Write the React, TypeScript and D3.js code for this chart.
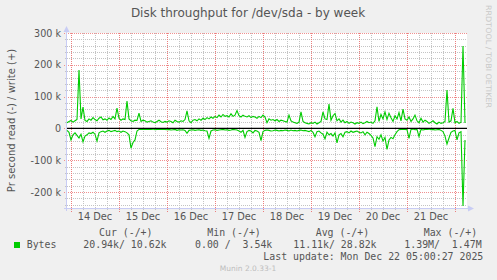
import React from "react";
import * as d3 from "d3";

const W = 497;
const H = 280;

// hourly samples starting Dec 13 22:00 UTC (bytes per second, in k)
const writeK = [
  18, 22, 25, 20, 24, 28, 184, 30, 67, 25,
  22, 30, 26, 34, 28, 24, 32, 36, 27, 30,
  26, 33, 28, 38, 30, 64, 32, 26, 30, 28,
  86, 30, 24, 22, 26, 25, 48, 22, 26, 24,
  20, 22, 24, 20, 18, 22, 26, 21, 19, 22,
  20, 24, 22, 18, 26, 22, 20, 24, 22, 28,
  55, 24, 18, 26, 28, 24, 30, 26, 32, 28,
  34, 30, 36, 32, 38, 34, 42, 36, 44, 38,
  40, 36, 46, 38, 42, 56, 40, 36, 42, 38,
  36, 40, 34, 38, 36, 32, 38, 34, 42, 36,
  18, 30, 26, 28, 24, 28, 22, 26, 24, 22,
  20, 42, 24, 20, 18, 16, 20, 52, 22, 18,
  16, 14, 18, 16, 20, 14, 18, 22, 52, 30,
  28, 77, 26, 40, 47, 24, 30, 20, 26, 18,
  22, 16, 20, 18, 14, 18, 16, 20, 15, 18,
  22, 18, 20, 16, 24, 68, 22, 44, 30, 52,
  28, 48, 34, 22, 40, 30, 50, 24, 61, 30,
  26, 36, 22, 30, 42, 24, 18, 32, 20, 26,
  22, 16, 20, 24, 18, 14, 20, 16, 18, 22,
  121, 20, 24, 63, 18, 22, 16, 20, 259, 17,
];

const readK = [
  6, 12, 36, 20, 14, 22, 30, 18, 42, 24,
  20, 14, 16, 12, 18, 40, 14, 10, 8, 12,
  8, 6, 10, 8, 6, 10, 8, 12, 8, 10,
  14, 20, 62, 44, 36, 8, 3, 2, 3, 2,
  3, 2, 3, 2, 4, 3, 2, 3, 2, 3,
  4, 3, 5, 4, 3, 6, 4, 5, 4, 6,
  15, 6, 5, 4, 6, 5, 4, 6, 5, 7,
  8, 31, 8, 5, 4, 6, 5, 4, 3, 5,
  4, 6, 5, 3, 4, 5, 8, 12, 6, 28,
  10, 6, 8, 14, 6, 8, 12, 38, 10, 6,
  5, 6, 8, 7, 5, 6, 8, 6, 7, 5,
  6, 8, 5, 7, 6, 8, 6, 5, 7, 6,
  8, 10, 6, 12, 26, 10, 8, 14, 18, 33,
  12, 20, 16, 24, 14, 45, 20, 16, 26, 12,
  10, 14, 8, 12, 10, 8, 12, 14, 10, 20,
  12, 16, 22, 30, 57, 26, 34, 20, 40, 28,
  66, 36, 28, 32, 20, 10, 4, 3, 2, 3,
  4, 31, 3, 2, 4, 3, 26, 3, 5, 3,
  3, 2, 4, 3, 5, 4, 3, 6, 10, 24,
  49, 30, 12, 8, 6, 36, 14, 10, 244, 36,
];

const dayLabels = ["14 Dec", "15 Dec", "16 Dec", "17 Dec", "18 Dec", "19 Dec", "20 Dec", "21 Dec"];
const yTickValues = [300000, 200000, 100000, 0, -100000, -200000];
const yTickLabels = ["300 k", "200 k", "100 k", "0", "-100 k", "-200 k"];

const legendHeaders = ["Cur (-/+)", "Min (-/+)", "Avg (-/+)", "Max (-/+)"];
const legendValues = ["20.94k/ 10.62k", "0.00 /  3.54k", "11.11k/ 28.82k", "1.39M/  1.47M"];
const seriesName = "Bytes";
const title = "Disk throughput for /dev/sda - by week";
const yLabel = "Pr second read (-) / write (+)";
const lastUpdate = "Last update: Mon Dec 22 05:00:27 2025";
const footer = "Munin 2.0.33-1";
const watermark = "RRDTOOL / TOBI OETIKER";

const HOUR = 3600 * 1000;
const start = Date.UTC(2025, 11, 13, 22, 0, 0);
const end = Date.UTC(2025, 11, 22, 6, 0, 0);

export default function App() {
  const L = 67, R = 467, T = 33, B = 208;
  const x = d3.scaleUtc().domain([new Date(start), new Date(end)]).range([L, R]);
  const y = d3.scaleLinear().domain([-250000, 300000]).range([B, T]);

  const times = writeK.map((_, i) => new Date(start + i * HOUR));
  const line = d3
    .line<number>()
    .x((_, i) => x(times[i]))
    .y((d) => y(d));

  const writePath = line(writeK.map((v) => v * 1000)) || "";
  const readPath = line(readK.map((v) => -v * 1000)) || "";

  const sixHours = d3.utcHour.every(6)!.range(new Date(start), new Date(end));
  const days = d3.utcDay.range(new Date(start), new Date(end));
  const minorY = d3.range(-240000, 300001, 20000).filter((v) => v % 100000 !== 0);

  const mono = "'DejaVu Sans Mono', monospace";
  const sans = "'DejaVu Sans', sans-serif";
  const txt = "#555";
  const axisCol = "#c8ccf4";

  const hdrX = [99, 207.3, 315.7, 423.7];
  const valX = [83.3, 195, 293.3, 404.3];

  return (
    <svg width={W} height={H} style={{ position: "absolute", left: 0, top: 0 }}>
      <rect x={0} y={0} width={W} height={H} fill="#f0f0f0" />
      <rect x={L} y={T} width={R - L} height={B - T} fill="#ffffff" />

      {/* minor grid */}
      {sixHours
        .filter((d) => d.getUTCHours() !== 0)
        .map((d, i) => (
          <line key={"mx" + i} x1={Math.round(x(d)) + 0.5} x2={Math.round(x(d)) + 0.5} y1={T} y2={B + 2}
            stroke="#c4c4c4" strokeDasharray="1,1" />
        ))}
      {minorY.map((v, i) => (
        <line key={"my" + i} x1={L - 2} x2={R} y1={Math.round(y(v)) + 0.5} y2={Math.round(y(v)) + 0.5}
          stroke="#c4c4c4" strokeDasharray="1,1" />
      ))}
      {/* major grid */}
      {days.map((d, i) => (
        <line key={"Mx" + i} x1={Math.round(x(d)) + 0.5} x2={Math.round(x(d)) + 0.5} y1={T} y2={B + 4}
          stroke="#ec7e7e" strokeDasharray="1,1" />
      ))}
      {yTickValues.map((v, i) => (
        <line key={"My" + i} x1={L - 3} x2={R} y1={Math.round(y(v)) + 0.5} y2={Math.round(y(v)) + 0.5}
          stroke="#f09090" strokeDasharray="1,1" />
      ))}

      {/* axes */}
      <line x1={L - 0.5} x2={L - 0.5} y1={B + 3} y2={T - 4} stroke={axisCol} />
      <path d={`M${L - 3.5},${T - 1} L${L - 0.5},${T - 7} L${L + 2.5},${T - 1} Z`} fill={axisCol} />
      <line x1={L - 3} x2={R + 2} y1={B + 0.5} y2={B + 0.5} stroke={axisCol} />
      <path d={`M${R + 1},${B - 2.5} L${R + 7},${B + 0.5} L${R + 1},${B + 3.5} Z`} fill={axisCol} />

      {/* data */}
      <path d={writePath} fill="none" stroke="#00cc00" strokeWidth={1.1} />
      <path d={readPath} fill="none" stroke="#00cc00" strokeWidth={1.1} />
      <line x1={L} x2={R} y1={y(0)} y2={y(0)} stroke="#000" strokeWidth={1.2} />

      {/* y tick labels */}
      {yTickValues.map((v, i) => (
        <text key={"yt" + i} x={61} y={y(v) + 3.5} textAnchor="end" fontFamily={sans} fontSize={9.6} fill={txt}>
          {yTickLabels[i]}
        </text>
      ))}
      {/* x labels */}
      {days.map((d, i) => (
        <text key={"xt" + i} x={x(new Date(d.getTime() + 12 * HOUR))} y={220} textAnchor="middle"
          fontFamily={sans} fontSize={9.8} fill={txt}>
          {dayLabels[i]}
        </text>
      ))}

      {/* title */}
      <text x={248} y={17} textAnchor="middle" fontFamily={sans} fontSize={12} fill="#555">{title}</text>
      {/* y label */}
      <text transform={`translate(15,${(T + B) / 2}) rotate(-90)`} textAnchor="middle" fontFamily={sans}
        fontSize={10} fill={txt}>{yLabel}</text>
      {/* watermark */}
      <text transform={`translate(486,5) rotate(90)`} textAnchor="start" fontFamily={sans} fontSize={7.5}
        fill="#c8c8c8" textLength={103} lengthAdjust="spacingAndGlyphs">{watermark}</text>

      {/* legend */}
      {legendHeaders.map((h, i) => (
        <text key={"lh" + i} x={hdrX[i]} y={235.5} fontFamily={mono} fontSize={9.9} fill={txt}>{h}</text>
      ))}
      <rect x={14} y={242} width={6} height={6} fill="#00cc00" />
      <text x={26.7} y={248} fontFamily={mono} fontSize={9.9} fill={txt}>{seriesName}</text>
      {legendValues.map((v, i) => (
        <text key={"lv" + i} x={valX[i]} y={248} fontFamily={mono} fontSize={9.9} fill={txt} style={{ whiteSpace: "pre" }}>{v}</text>
      ))}
      <text x={483.3} y={260} textAnchor="end" fontFamily={mono} fontSize={9.9} fill={txt}>{lastUpdate}</text>
      <text x={248} y={271} textAnchor="middle" fontFamily={sans} fontSize={7.5} fill="#bdbdbd">{footer}</text>
    </svg>
  );
}
